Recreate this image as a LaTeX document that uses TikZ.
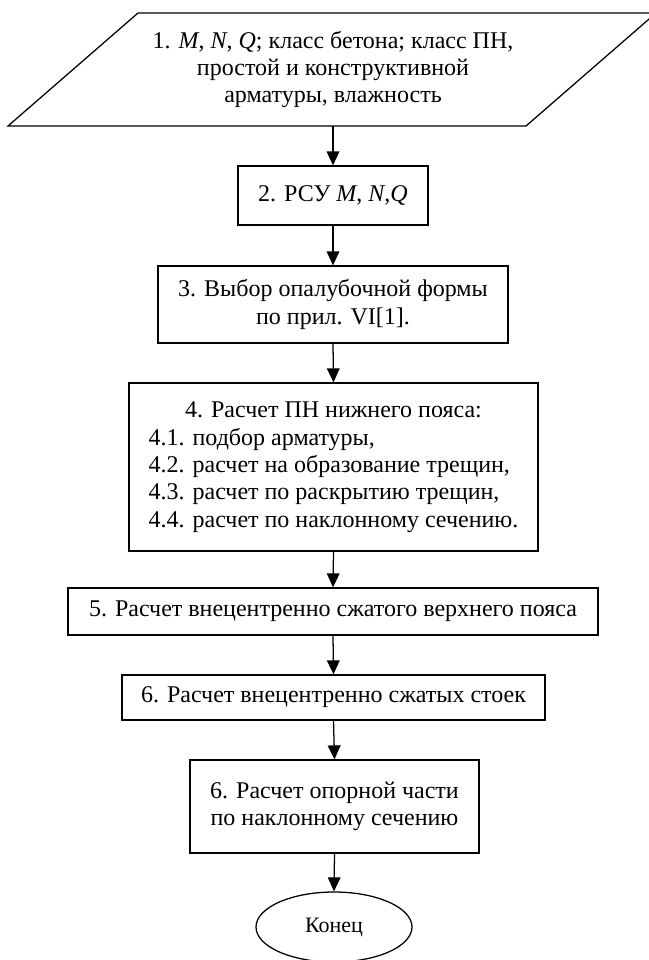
\documentclass[tikz,border=0pt]{standalone}
\usepackage{fontspec}
\setmainfont{Liberation Serif}
\usetikzlibrary{arrows.meta,shapes.geometric}
\begin{document}
\begin{tikzpicture}[x=0.75pt,y=-0.75pt,
  every node/.style={font=\fontsize{18}{20.6}\selectfont},
  blk/.style={draw,line width=0.95pt,inner sep=0pt,align=center},
  flow/.style={line width=0.95pt,-{Triangle[length=10.5pt,width=9.5pt]}}
]
\useasboundingbox (0,0) rectangle (649,960);
\clip (0,0) rectangle (649,960);

% input block (parallelogram)
\node[align=center,inner sep=0pt,minimum height=113*0.75pt] (n1) at (333,69.5)
  {1. \textit{M}, \textit{N}, \textit{Q}; класс бетона; класс ПН,\\
   простой и конструктивной\\
   арматуры, влажность};
\draw[line width=0.95pt] (138,13) -- (656,13) -- (526,126) -- (8,126) -- cycle;

% process blocks
\node[blk,minimum width=190*0.75pt,minimum height=59*0.75pt] (n2) at (333,195.5)
  {2. РСУ \textit{M}, \textit{N},\textit{Q}};
\node[blk,minimum width=350*0.75pt,minimum height=77*0.75pt] (n3) at (333,304.5)
  {3. Выбор опалубочной формы\\ по прил. VI[1].};
\node[blk,minimum width=409*0.75pt,minimum height=168*0.75pt] (n4) at (333.5,467)
  {\begin{tabular}{@{}l@{}}
   \multicolumn{1}{@{}c@{}}{4. Расчет ПН нижнего пояса:}\\
   4.1. подбор арматуры,\\
   4.2. расчет на образование трещин,\\
   4.3. расчет по раскрытию трещин,\\
   4.4. расчет по наклонному сечению.
   \end{tabular}};
\node[blk,minimum width=530*0.75pt,minimum height=47*0.75pt] (n5) at (333,611.5)
  {5. Расчет внецентренно сжатого верхнего пояса};
\node[blk,minimum width=423*0.75pt,minimum height=45*0.75pt] (n6) at (333.5,697.5)
  {6. Расчет внецентренно сжатых стоек};
\node[blk,minimum width=289*0.75pt,minimum height=93*0.75pt] (n7) at (334.5,806.5)
  {6. Расчет опорной части\\ по наклонному сечению};

% terminator
\node[blk,ellipse,minimum width=156*0.75pt,minimum height=70*0.75pt,
      font=\fontsize{16.5}{19}\selectfont] (n8) at (334,927) {Конец};

% flow arrows
\draw[flow] (n1.south) -- (n2.north);
\draw[flow] (n2.south) -- (n3.north);
\draw[flow] (n3.south) -- (n4.north);
\draw[flow] (n4.south) -- (n5.north);
\draw[flow] (n5.south) -- (n6.north);
\draw[flow] (n6.south) -- (n7.north);
\draw[flow] (n7.south) -- (n8.north);
\end{tikzpicture}
\end{document}
